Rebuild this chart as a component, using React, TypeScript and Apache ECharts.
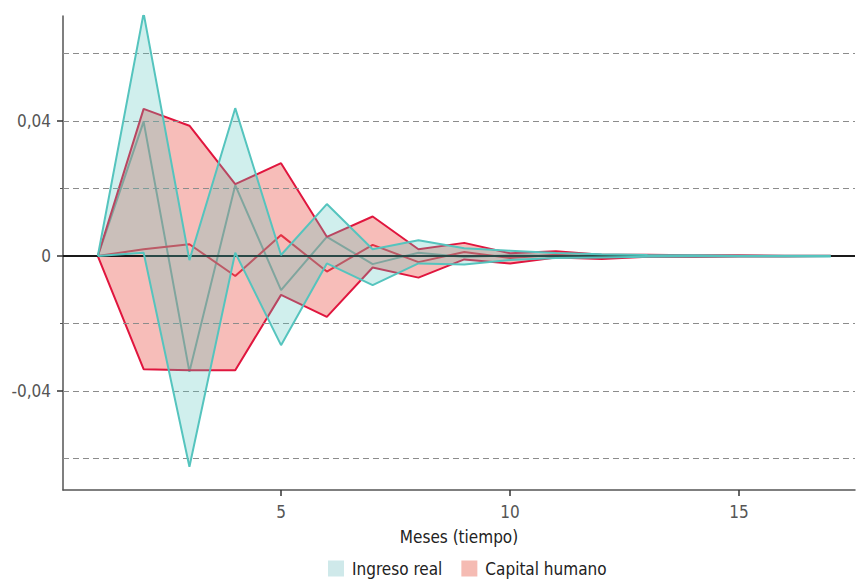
import React, { useEffect, useRef } from "react";
import * as echarts from "echarts";

const meses = [1, 2, 3, 4, 5, 6, 7, 8, 9, 10, 11, 12, 13, 14, 15, 16, 17];

const ingresoSup = [0, 0.0719, -0.0012, 0.0438, 0.0003, 0.0154, 0.0020, 0.0047, 0.0023, 0.0016, 0.0009, 0.0005, 0.0003, 0.0002, 0.0001, 0.0001, 0.0001];
const ingresoInf = [0, 0.0010, -0.0624, 0.0010, -0.0264, -0.0022, -0.0086, -0.0022, -0.0025, -0.0012, -0.0006, -0.0004, -0.0002, -0.0001, -0.0001, -0.0001, -0.0001];
const ingresoMed = [0, 0.0398, -0.0343, 0.0210, -0.0101, 0.0057, -0.0024, 0.0010, -0.0003, 0.0002, 0.0001, 0, 0, 0, 0, 0, 0];

const capitalSup = [0, 0.0436, 0.0386, 0.0213, 0.0275, 0.0057, 0.0117, 0.0020, 0.0039, 0.0008, 0.0014, 0.0004, 0.0004, 0.0002, 0.0002, 0.0001, 0.0001];
const capitalInf = [0, -0.0335, -0.0338, -0.0338, -0.0115, -0.0180, -0.0034, -0.0064, -0.0010, -0.0022, -0.0004, -0.0009, -0.0002, -0.0003, -0.0001, -0.0001, 0];
const capitalMed = [0, 0.0020, 0.0035, -0.0059, 0.0062, -0.0046, 0.0033, -0.0018, 0.0012, -0.0006, 0.0004, -0.0002, 0.0001, -0.0001, 0, 0, 0];

const xTicks = [5, 10, 15];
const yLabels = [-0.04, 0, 0.04];
const yMinorTicks = [-0.02, 0.02];
const gridValues = [-0.06, -0.04, -0.02, 0.02, 0.04, 0.06];

const FONT = "'Liberation Sans Narrow', 'DejaVu Sans Condensed', 'Roboto', sans-serif";
const tealLine = "#55C4BE";
const tealFill = "rgba(86,196,191,0.28)";
const redLine = "#E0163E";
const redFill = "rgba(236,90,80,0.40)";

const pairs = (arr: number[]) => meses.map((m, i) => [m, arr[i]]);

const band = (name: string, sup: number[], inf: number[], fill: string, z: number) => ({
  type: "custom",
  name,
  z,
  coordinateSystem: "cartesian2d",
  data: [[1, 0]],
  encode: { x: 0, y: 1 },
  silent: true,
  itemStyle: { color: fill },
  renderItem: (_p: any, api: any) => {
    const pts: number[][] = [];
    meses.forEach((m, i) => pts.push(api.coord([m, sup[i]])));
    for (let i = meses.length - 1; i >= 0; i--) pts.push(api.coord([meses[i], inf[i]]));
    return { type: "polygon", shape: { points: pts }, style: { fill } };
  },
});

const line = (name: string, arr: number[], color: string, z: number) => ({
  type: "line",
  name,
  z,
  data: pairs(arr),
  symbol: "none",
  showSymbol: false,
  silent: true,
  lineStyle: { color, width: 2 },
  itemStyle: { color },
});

export default function App() {
  const ref = useRef<HTMLDivElement>(null);
  useEffect(() => {
    if (!ref.current) return;
    const chart = echarts.init(ref.current, null, { renderer: "svg" });
    chart.setOption({
      animation: false,
      backgroundColor: "#ffffff",
      textStyle: { fontFamily: FONT },
      grid: { left: 63, right: 1, top: 16, bottom: 89 },
      legend: {
        top: 555,
        left: 323,
        itemWidth: 16,
        itemHeight: 16,
        itemGap: 19,
        textStyle: { fontFamily: FONT, fontSize: 17, color: "#222", padding: [0, 0, 0, 3] },
        data: [
          { name: "Ingreso real", icon: "rect", itemStyle: { color: "#CFE9EA" } },
          { name: "Capital humano", icon: "rect", itemStyle: { color: "#F5BBB3" } },
        ],
      },
      xAxis: {
        type: "value",
        min: 0.24,
        max: 17.53,
        name: "Meses (tiempo)",
        nameLocation: "middle",
        nameGap: 38,
        nameTextStyle: { fontFamily: FONT, fontSize: 17, color: "#222" },
        axisLine: { show: true, onZero: false, lineStyle: { color: "#555", width: 1.5 } },
        axisTick: { show: true, customValues: xTicks, length: 6, lineStyle: { color: "#333", width: 1.5 } },
        axisLabel: { customValues: xTicks, margin: 13, fontFamily: FONT, fontSize: 17, color: "#555" },
        splitLine: { show: false },
      },
      yAxis: [
        {
          type: "value",
          min: -0.0693,
          max: 0.0711,
          axisLine: { show: true, lineStyle: { color: "#555", width: 1.5 } },
          axisTick: { show: true, customValues: yLabels, length: 6, lineStyle: { color: "#333", width: 1.5 } },
          axisLabel: {
            customValues: yLabels,
            margin: 12,
            fontFamily: FONT,
            fontSize: 17,
            color: "#555",
            formatter: (v: number) => (Math.abs(v) < 1e-9 ? "0" : v.toFixed(2).replace(".", ",")),
          },
          splitLine: { show: false },
        },
        {
          type: "value",
          min: -0.0693,
          max: 0.0711,
          position: "left",
          axisLine: { show: false },
          axisTick: { show: true, customValues: yMinorTicks, length: 3, lineStyle: { color: "#555", width: 1 } },
          axisLabel: { show: false },
          splitLine: { show: false },
        },
      ],
      series: [
        {
          type: "line",
          name: "grid",
          z: 1,
          data: [],
          silent: true,
          markLine: {
            silent: true,
            symbol: ["none", "none"],
            label: { show: false },
            lineStyle: { type: [6, 4], color: "#8c8c8c", width: 1 },
            data: gridValues.map((v) => ({ yAxis: v })),
          },
        },
        line("ingresoMed", ingresoMed, tealLine, 2),
        line("capitalMed", capitalMed, redLine, 2),
        band("Capital humano", capitalSup, capitalInf, redFill, 3),
        line("capitalSup", capitalSup, redLine, 4),
        line("capitalInf", capitalInf, redLine, 4),
        band("Ingreso real", ingresoSup, ingresoInf, tealFill, 5),
        line("ingresoSup", ingresoSup, tealLine, 6),
        line("ingresoInf", ingresoInf, tealLine, 6),
        {
          type: "line",
          name: "cero",
          z: 7,
          data: [],
          silent: true,
          markLine: {
            silent: true,
            symbol: ["none", "none"],
            label: { show: false },
            lineStyle: { type: "solid", color: "#1a1a1a", width: 2 },
            data: [{ yAxis: 0 }],
          },
        },
      ],
    });
    return () => chart.dispose();
  }, []);
  return <div ref={ref} style={{ width: 856, height: 579, position: "absolute", left: 0, top: 0 }} />;
}
